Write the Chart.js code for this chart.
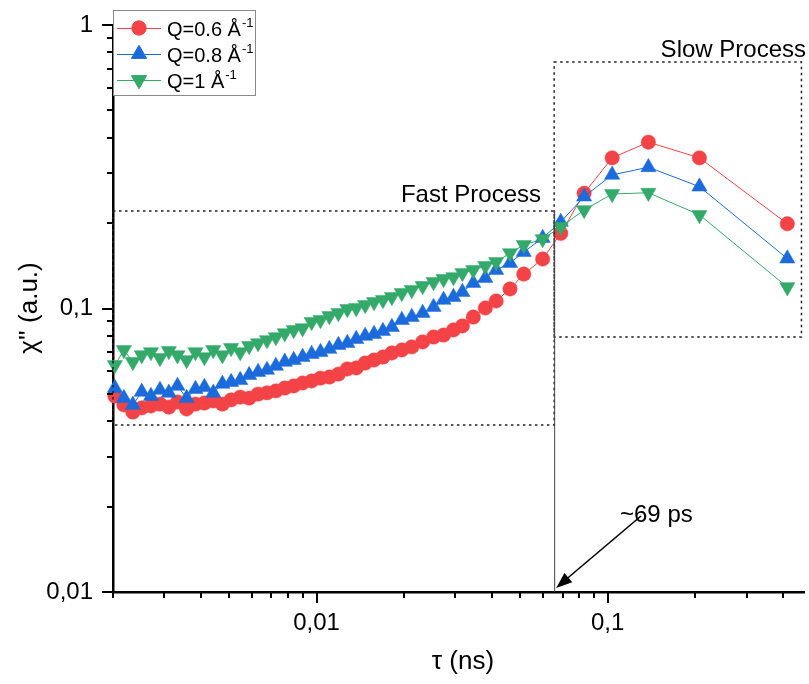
<!DOCTYPE html>
<html><head><meta charset="utf-8">
<script src="https://cdn.jsdelivr.net/npm/chart.js@4.4.1/dist/chart.umd.min.js"></script>
<style>html,body{margin:0;padding:0;background:#fff;overflow:hidden}#wrap{position:relative;width:809px;height:684px;overflow:hidden}canvas{display:block}</style>
</head><body><div id="wrap"><canvas id="c" width="814" height="684"></canvas></div>
<script>
// ---- data ----
const tau = [0.00203,0.00218,0.00234,0.00251,0.00270,0.00290,0.00311,0.00333,0.00358,0.00384,
  0.00412,0.00442,0.00475,0.00509,0.00547,0.00587,0.00630,0.00676,0.00725,0.00778,
  0.00835,0.00896,0.00962,0.01032,0.01107,0.01189,0.01276,0.01369,0.01469,0.01576,
  0.01691,0.01815,0.01963,0.02124,0.02315,0.02524,0.02731,0.02953,0.03170,0.03455,
  0.03800,0.04140,0.04620,0.05150,0.05980,0.0690,0.0830,0.1036,0.1380,0.2066,0.4140];
const q06 = [0.0491,0.0457,0.0431,0.0446,0.0453,0.0460,0.0449,0.0468,0.0442,0.0460,
  0.0464,0.0472,0.0460,0.0476,0.0487,0.0483,0.0499,0.0504,0.0512,0.0524,
  0.0533,0.0546,0.0555,0.0568,0.0573,0.0587,0.0612,0.0617,0.0642,0.0658,
  0.0674,0.0697,0.0714,0.0732,0.0762,0.0793,0.0806,0.0840,0.0868,0.0933,
  0.1004,0.1063,0.1172,0.1323,0.1495,0.184,0.255,0.340,0.386,0.340,0.199];
const q08 = [0.0524,0.0483,0.0457,0.0508,0.0491,0.0516,0.0504,0.0533,0.0483,0.0520,
  0.0528,0.0504,0.0542,0.0550,0.0559,0.0582,0.0597,0.0607,0.0627,0.0648,
  0.0658,0.0674,0.0691,0.0702,0.0720,0.0743,0.0755,0.0780,0.0800,0.0813,
  0.0833,0.0860,0.0911,0.0933,0.0964,0.1012,0.1072,0.1098,0.1143,0.1230,
  0.1281,0.1367,0.1447,0.1582,0.1773,0.202,0.248,0.296,0.315,0.269,0.150];
const q10 = [0.0632,0.0714,0.0648,0.0685,0.0702,0.0669,0.0708,0.0685,0.0658,0.0702,
  0.0674,0.0714,0.0685,0.0726,0.0702,0.0738,0.0755,0.0774,0.0793,0.0819,
  0.0840,0.0853,0.0897,0.0911,0.0941,0.0964,0.0996,0.1004,0.1029,0.1054,
  0.1072,0.1098,0.1134,0.1162,0.1201,0.1240,0.1271,0.1291,0.1334,0.1367,
  0.1412,0.1459,0.1569,0.1675,0.1758,0.194,0.2225,0.2535,0.256,0.214,0.119];
const seriesLabels = ['Q=0.6 Å', 'Q=0.8 Å', 'Q=1 Å'];
const seriesSup = '-1';
const xTickValues = [0.01, 0.1];
const xTickLabels = ['0,01', '0,1'];
const yTickValues = [0.01, 0.1, 1];
const yTickLabels = ['0,01', '0,1', '1'];
const xTitle = 'τ (ns)';
const yTitle = "χ'' (a.u.)";
// annotation regions (data coordinates)
const fastBox = {x0: 0.002, x1: 0.0655, y0: 0.0388, y1: 0.2208, label: 'Fast Process'};
const slowBox = {x0: 0.0655, x1: 0.463, y0: 0.0793, y1: 0.740, label: 'Slow Process'};
const crossover = {x: 0.0655, label: '~69 ps'};

// ---- styles ----
const FONT = '"Liberation Sans", Arial, sans-serif';
const RED = '#F44346', BLUE = '#1B6BDC', GREEN = '#33A96A';
const colors = [RED, BLUE, GREEN];
const shapes = [{pointStyle:'circle', r:7.2, rot:0}, {pointStyle:'triangle', r:8.8, rot:0}, {pointStyle:'triangle', r:8.8, rot:180}];

function mk(vals){ return tau.map((t,i)=>({x:t, y:vals[i]})); }
const datasets = [q06, q08, q10].map((v,i)=>({
  label: seriesLabels[i] + seriesSup,
  data: mk(v),
  borderColor: colors[i],
  backgroundColor: colors[i],
  borderWidth: 1,
  pointStyle: shapes[i].pointStyle,
  pointRadius: shapes[i].r,
  pointRotation: shapes[i].rot,
  pointBackgroundColor: colors[i],
  pointBorderColor: colors[i],
  pointBorderWidth: 0.5,
  showLine: true,
  clip: false,
  order: 3 - i
}));

const deco = {
  id: 'deco',
  afterDraw(chart){
    const {ctx, chartArea: a, scales: {x, y}} = chart;
    ctx.save();
    // ticks (major & minor)
    ctx.strokeStyle = '#000'; ctx.lineWidth = 2;
    ctx.beginPath();
    for (let e = -4; e <= 1; e++) for (let m = 1; m <= 9; m++) {
      const v = m * Math.pow(10, e);
      if (v >= x.min * 0.999 && v <= x.max * 1.001) {
        const px = Math.round(x.getPixelForValue(v));
        const L = m === 1 ? 11 : 6;
        ctx.moveTo(px, a.bottom); ctx.lineTo(px, a.bottom + L);
      }
      if (v >= y.min * 0.999 && v <= y.max * 1.001) {
        const py = Math.round(y.getPixelForValue(v));
        const L = m === 1 ? 11 : 6;
        ctx.moveTo(a.left, py); ctx.lineTo(a.left - L, py);
      }
    }
    ctx.stroke();

    // dotted boxes
    ctx.strokeStyle = '#222'; ctx.lineWidth = 1.5; ctx.setLineDash([2.5, 3.5]);
    [fastBox, slowBox].forEach(b => {
      const x0 = x.getPixelForValue(b.x0), x1 = x.getPixelForValue(b.x1);
      const y0 = y.getPixelForValue(b.y0), y1 = y.getPixelForValue(b.y1);
      ctx.strokeRect(x0, y1, x1 - x0, y0 - y1);
    });
    ctx.setLineDash([]);
    // crossover solid line
    const cx = x.getPixelForValue(crossover.x);
    ctx.strokeStyle = '#444'; ctx.lineWidth = 1;
    ctx.beginPath(); ctx.moveTo(cx + 0.5, y.getPixelForValue(fastBox.y1)); ctx.lineTo(cx + 0.5, a.bottom); ctx.stroke();

    // box labels
    ctx.fillStyle = '#000'; ctx.textBaseline = 'alphabetic';
    ctx.font = '24px ' + FONT; ctx.textAlign = 'right';
    ctx.fillText(fastBox.label, 541, 202);
    ctx.fillText(slowBox.label, 806, 57);
    // arrow + label
    ctx.textAlign = 'left';
    ctx.fillText(crossover.label, 620, 522);
    const ax0 = 641, ay0 = 516, ax1 = cx + 2, ay1 = a.bottom - 4;
    ctx.strokeStyle = '#000'; ctx.lineWidth = 1.6;
    ctx.beginPath(); ctx.moveTo(ax0, ay0); ctx.lineTo(ax1 + 8, ay1 - 7); ctx.stroke();
    const ang = Math.atan2(ay1 - ay0, ax1 - ax0);
    const hl = 16, hw = 6;
    ctx.beginPath();
    ctx.moveTo(ax1, ay1);
    ctx.lineTo(ax1 - hl * Math.cos(ang) + hw * Math.sin(ang), ay1 - hl * Math.sin(ang) - hw * Math.cos(ang));
    ctx.lineTo(ax1 - hl * Math.cos(ang) - hw * Math.sin(ang), ay1 - hl * Math.sin(ang) + hw * Math.cos(ang));
    ctx.closePath(); ctx.fillStyle = '#000'; ctx.fill();

    // axis titles
    ctx.font = '26px ' + FONT; ctx.textAlign = 'center'; ctx.textBaseline = 'middle';
    ctx.fillText(xTitle, 463, 662);
    ctx.save(); ctx.translate(30, 308); ctx.rotate(-Math.PI / 2); ctx.fillText(yTitle, 0, 0); ctx.restore();

    // legend
    const lx0 = 113, ly0 = 10, lx1 = 255, ly1 = 95;
    ctx.fillStyle = '#fff'; ctx.fillRect(lx0, ly0, lx1 - lx0, ly1 - ly0);
    ctx.strokeStyle = '#8a8a8a'; ctx.lineWidth = 1; ctx.strokeRect(lx0 + 0.5, ly0 + 0.5, lx1 - lx0, ly1 - ly0);
    const rows = [28, 54, 80];
    datasets.forEach((d, i) => {
      const ry = rows[i];
      ctx.strokeStyle = colors[i]; ctx.lineWidth = 1;
      ctx.beginPath(); ctx.moveTo(117, ry + 0.5); ctx.lineTo(161, ry + 0.5); ctx.stroke();
      ctx.fillStyle = colors[i];
      Chart.helpers.drawPoint(ctx, {pointStyle: shapes[i].pointStyle, radius: shapes[i].r, rotation: shapes[i].rot, borderWidth: 0.5}, 139, ry);
      ctx.fillStyle = '#000'; ctx.textAlign = 'left'; ctx.textBaseline = 'alphabetic';
      ctx.font = '20px ' + FONT;
      ctx.fillText(seriesLabels[i], 167, ry + 8);
      const w = ctx.measureText(seriesLabels[i]).width;
      ctx.font = '13px ' + FONT;
      ctx.fillText(seriesSup, 167 + w + 1, ry - 1);
    });
    ctx.restore();
  }
};

new Chart(document.getElementById('c'), {
  type: 'scatter',
  data: {datasets},
  options: {
    responsive: false, animation: false, devicePixelRatio: 1,
    layout: {padding: {top: 25, right: 0, left: 0, bottom: 0}},
    plugins: {legend: {display: false}, tooltip: {enabled: false}},
    elements: {line: {tension: 0}},
    scales: {
      x: {
        type: 'logarithmic', min: 0.002, max: 0.475,
        grid: {display: true, drawOnChartArea: false, drawTicks: false},
        border: {display: true, color: '#000', width: 2.5},
        afterBuildTicks: s => { s.ticks = xTickValues.map(v => ({value: v})); },
        afterFit: s => { s.height = 92; s.paddingLeft = 0; s.paddingRight = 0; },
        ticks: {autoSkip: false, maxRotation: 0, padding: 17, color: '#000', font: {family: FONT, size: 24},
          callback: (v) => { const i = xTickValues.findIndex(t => Math.abs(t - v) / t < 1e-6); return i >= 0 ? xTickLabels[i] : ''; }}
      },
      y: {
        type: 'logarithmic', min: 0.01, max: 1,
        grid: {display: true, drawOnChartArea: false, drawTicks: false},
        border: {display: true, color: '#000', width: 2.5},
        afterBuildTicks: s => { s.ticks = yTickValues.map(v => ({value: v})); },
        afterFit: s => { s.width = 113; s.paddingTop = 0; s.paddingBottom = 0; },
        ticks: {autoSkip: false, padding: 20, color: '#000', font: {family: FONT, size: 24},
          callback: (v) => { const i = yTickValues.findIndex(t => Math.abs(t - v) / t < 1e-6); return i >= 0 ? yTickLabels[i] : ''; }}
      }
    }
  },
  plugins: [deco]
});
</script>
</body></html>
